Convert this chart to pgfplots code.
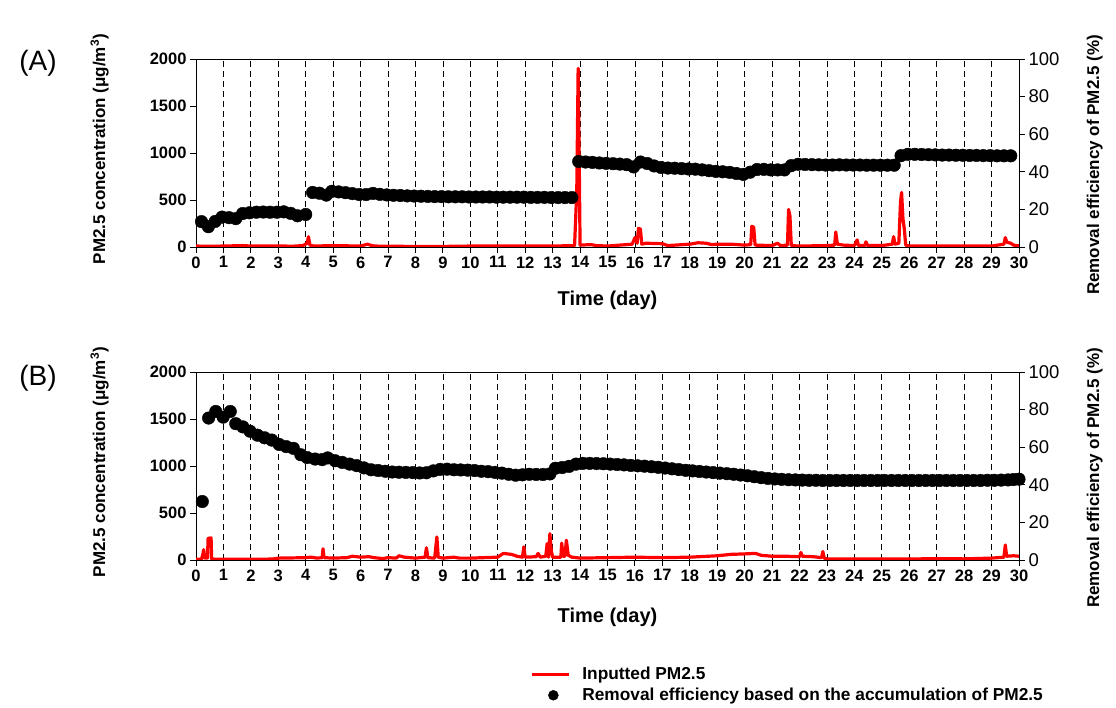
\documentclass[border=0pt]{standalone}
\usepackage{fontspec}
\setmainfont{Liberation Sans}
\usepackage{pgfplots}
\usepackage{pgfplotstable}
\pgfplotsset{compat=1.18}

% inputted PM2.5, panel A (ug/m3)
\pgfplotstableread{
x y
0 10
0.5 8
1 10
1.7 15
2 10
3 12
3.5 8
3.9 15
4.05 40
4.1 110
4.15 20
4.3 10
5 15
6 10
6.25 30
6.35 20
6.5 10
7 8
8 6
9 6
10 10
11 12
12 12
13 10
13.8 15
13.88 600
13.93 1900
13.97 900
14.0 20
14.4 25
14.6 15
15 10
15.9 30
16.0 100
16.08 40
16.13 200
16.2 190
16.25 30
16.4 40
17 35
17.2 15
18 30
18.3 45
18.6 40
18.8 25
19 30
19.5 30
20 20
20.22 25
20.26 220
20.33 210
20.38 20
21 15
21.2 40
21.3 15
21.56 20
21.6 400
21.65 330
21.7 15
22 10
23 15
23.28 20
23.32 160
23.38 30
23.6 20
24 15
24.1 75
24.15 15
24.38 15
24.42 55
24.48 15
25 15
25.38 30
25.43 110
25.48 30
25.62 40
25.68 480
25.72 580
25.77 300
25.82 190
25.87 20
26 10
27 10
28 10
29 10
29.45 30
29.5 100
29.56 50
29.7 40
29.8 20
30 12
}\redA

% removal efficiency, panel A (%)
\pgfplotstableread{
x y
0.20 13.5
0.45 10.8
0.70 13.6
0.95 15.9
1.20 15.6
1.45 15.1
1.70 17.8
1.95 18.2
2.20 18.5
2.45 18.6
2.70 18.5
2.95 18.5
3.20 18.7
3.45 17.9
3.70 16.6
4.00 17.3
4.25 29.0
4.50 28.6
4.75 27.6
4.95 29.6
5.20 29.3
5.45 28.9
5.70 28.4
5.95 27.9
6.20 27.9
6.45 28.5
6.70 28.0
6.95 27.7
7.20 27.5
7.45 27.4
7.70 27.2
7.95 27.1
8.20 27.0
8.45 26.9
8.70 26.8
8.95 26.8
9.20 26.7
9.45 26.7
9.70 26.7
9.95 26.6
10.20 26.6
10.45 26.6
10.70 26.6
10.95 26.5
11.20 26.5
11.45 26.5
11.70 26.5
11.95 26.5
12.20 26.4
12.45 26.4
12.70 26.4
12.95 26.3
13.20 26.3
13.45 26.3
13.70 26.3
13.95 45.5
14.20 45.2
14.45 45.0
14.70 44.7
14.95 44.5
15.20 44.3
15.45 44.1
15.70 43.8
15.95 42.6
16.20 45.2
16.45 44.4
16.70 43.1
16.95 42.3
17.20 42.0
17.45 41.9
17.70 41.7
17.95 41.5
18.20 41.4
18.45 41.0
18.70 40.6
18.95 40.2
19.20 40.0
19.45 39.7
19.70 39.1
19.95 38.6
20.20 39.8
20.45 41.2
20.70 41.3
20.95 41.0
21.20 41.0
21.45 41.0
21.70 43.3
21.95 44.0
22.20 43.9
22.45 43.8
22.70 43.7
22.95 43.6
23.20 43.6
23.45 43.7
23.70 43.6
23.95 43.6
24.20 43.6
24.45 43.5
24.70 43.5
24.95 43.5
25.20 43.5
25.45 43.5
25.70 48.6
25.95 49.3
26.20 49.3
26.45 49.2
26.70 49.1
26.95 49.0
27.20 48.9
27.45 48.9
27.70 48.8
27.95 48.8
28.20 48.7
28.45 48.7
28.70 48.6
28.95 48.6
29.20 48.5
29.45 48.5
29.70 48.5
}\effA

% inputted PM2.5, panel B (ug/m3)
\pgfplotstableread{
x y
0 8
0.2 8
0.25 60
0.28 110
0.32 20
0.42 20
0.44 230
0.55 235
0.57 10
1 8
2 8
2.8 10
3 20
3.5 22
4 25
4.2 30
4.4 20
4.6 25
4.63 120
4.67 25
5 20
5.5 25
5.7 40
6 30
6.3 35
6.5 25
6.8 15
7 25
7.3 20
7.4 45
7.6 30
8 20
8.35 30
8.4 130
8.45 25
8.7 20
8.78 245
8.83 30
9 20
9.4 30
9.6 20
10 20
10.5 25
11 30
11.2 70
11.5 60
11.7 40
11.9 30
11.95 140
12 30
12.4 35
12.47 70
12.55 30
12.75 40
12.8 175
12.85 30
12.9 280
12.95 100
13 30
13.3 30
13.33 180
13.38 40
13.45 40
13.5 210
13.57 50
13.7 30
14 20
15 25
16 30
17 25
18 30
19 45
19.5 60
20 65
20.4 70
20.6 50
21 40
21.5 40
22 35
22.05 80
22.1 40
22.5 35
22.8 25
22.85 90
22.9 20
23 10
24 10
25 12
26 10
27 15
28 12
29 20
29.45 30
29.5 160
29.55 40
29.8 45
30 40
}\redB

% removal efficiency, panel B (%)
\pgfplotstableread{
x y
0.23 31.1
0.46 75.5
0.72 79.0
0.99 76.0
1.25 79.0
1.45 72.5
1.71 70.8
1.97 68.5
2.24 66.4
2.50 65.0
2.76 63.8
3.03 61.5
3.29 60.3
3.55 59.4
3.82 56.0
4.05 54.5
4.34 53.7
4.60 53.4
4.80 54.3
5.07 52.8
5.33 51.9
5.60 51.0
5.86 50.2
6.12 49.0
6.38 48.0
6.64 47.6
6.90 47.2
7.15 46.8
7.40 46.7
7.65 46.6
7.90 46.5
8.15 46.3
8.40 46.4
8.65 47.4
8.90 48.2
9.15 48.3
9.40 48.0
9.65 47.9
9.90 47.8
10.15 47.6
10.40 47.2
10.65 47.0
10.90 46.6
11.15 46.2
11.40 45.6
11.65 45.1
11.90 45.3
12.15 45.6
12.40 45.5
12.65 45.5
12.90 45.8
13.10 48.8
13.35 49.2
13.60 49.8
13.85 51.0
14.10 51.4
14.35 51.4
14.60 51.3
14.85 51.2
15.10 51.0
15.35 50.8
15.60 50.6
15.85 50.3
16.10 50.1
16.35 49.9
16.60 49.6
16.85 49.3
17.10 48.9
17.35 48.5
17.60 48.1
17.85 47.7
18.10 47.4
18.35 47.1
18.60 46.8
18.85 46.5
19.10 46.2
19.35 45.9
19.60 45.6
19.85 45.2
20.10 44.8
20.35 44.3
20.60 43.8
20.85 43.4
21.10 43.1
21.35 42.9
21.60 42.7
21.85 42.6
22.10 42.5
22.35 42.4
22.60 42.4
22.85 42.3
23.10 42.3
23.35 42.3
23.60 42.3
23.85 42.3
24.10 42.3
24.35 42.3
24.60 42.3
24.85 42.3
25.10 42.3
25.35 42.3
25.60 42.3
25.85 42.3
26.10 42.3
26.35 42.3
26.60 42.3
26.85 42.3
27.10 42.3
27.35 42.3
27.60 42.3
27.85 42.3
28.10 42.3
28.35 42.3
28.60 42.3
28.85 42.4
29.10 42.4
29.35 42.5
29.60 42.6
29.80 42.8
30.00 43.0
}\effB

\pgfplotsset{
  panel/.style={
    scale only axis, width=823pt, height=188pt,
    anchor=south west,
    xmin=0, xmax=30,
    tick align=outside, major tick length=6pt,
    axis line style={line width=0.9pt},
    every tick/.style={line width=0.9pt, black},
    /pgf/number format/assume math mode=true,
    /pgf/number format/1000 sep={},
  },
  leftax/.style={
    panel,
    ymin=0, ymax=2000, ytick={0,500,...,2000},
    xtick={0,...,30}, xtick pos=bottom, ytick pos=left,
    xmajorgrids,
    major grid style={black, line width=0.8pt, dash pattern=on 6pt off 4pt},
    ticklabel style={font=\bfseries\fontsize{16.5}{16.5}\selectfont},
    xlabel={Time (day)},
    ylabel={PM2.5 concentration (μg/m\textsuperscript{3})},
    label style={font=\bfseries\fontsize{17}{17}\selectfont},
    xlabel style={font=\bfseries\fontsize{20}{20}\selectfont},
    ylabel style={at={(axis description cs:-0.117,0.52)}, anchor=center},
  },
  rightax/.style={
    panel,
    axis x line=none, axis y line*=right,
    ymin=0, ymax=100, ytick={0,20,...,100},
    ticklabel style={font=\fontsize{18.5}{18.5}\selectfont},
    ylabel={Removal efficiency of PM2.5 (\%)},
    ylabel style={font=\bfseries\fontsize{17}{17}\selectfont,
      at={(axis description cs:1.092,0.436)}, anchor=center},
  },
  legline/.style={legend image code/.code={%
    \draw[##1] (0pt,0pt) -- (37pt,0pt);
    \path[draw=none] (0pt,0pt) -- (48pt,0pt);}},
  legdot/.style={legend image code/.code={%
    \draw[##1] plot coordinates {(21pt,0pt)};
    \path[draw=none] (0pt,0pt) -- (48pt,0pt);}},
}

\begin{document}
\begin{tikzpicture}
\path[use as bounding box] (0pt,0pt) rectangle (1116pt,707pt);

% ---- panel A ----
\begin{axis}[leftax, at={(196pt,460pt)},
  xlabel style={at={(axis description cs:0.5,-0.282)}, anchor=center}]
\addplot[red, line width=3.2pt, line join=round] table[x=x, y=y] {\redA};
\end{axis}
\begin{axis}[rightax, at={(196pt,460pt)}]
\addplot[only marks, mark=*, mark size=6.3pt, black] table[x=x, y=y] {\effA};
\end{axis}
\node[font=\fontsize{28}{28}\selectfont] at (38pt,644pt) {(A)};

% ---- panel B ----
\begin{axis}[leftax, at={(196pt,147pt)},
  xlabel style={at={(axis description cs:0.5,-0.303)}, anchor=center}]
\addplot[red, line width=3.2pt, line join=round] table[x=x, y=y] {\redB};
\end{axis}
\begin{axis}[rightax, at={(196pt,147pt)},
  legend style={at={(axis description cs:0.403,-0.548)}, anchor=north west,
    draw=none, fill=none, font=\bfseries\fontsize{17.3}{17.3}\selectfont,
    row sep=3pt},
  legend cell align=left]
\addplot[only marks, mark=*, mark size=6.3pt, black, forget plot] table[x=x, y=y] {\effB};
\addlegendimage{red, line width=3pt, legline}
\addlegendentry{Inputted PM2.5}
\addlegendimage{black, only marks, mark=*, mark size=5pt, legdot}
\addlegendentry{Removal efficiency based on the accumulation of PM2.5}
\end{axis}
\node[font=\fontsize{28}{28}\selectfont] at (38pt,329pt) {(B)};
\end{tikzpicture}
\end{document}
